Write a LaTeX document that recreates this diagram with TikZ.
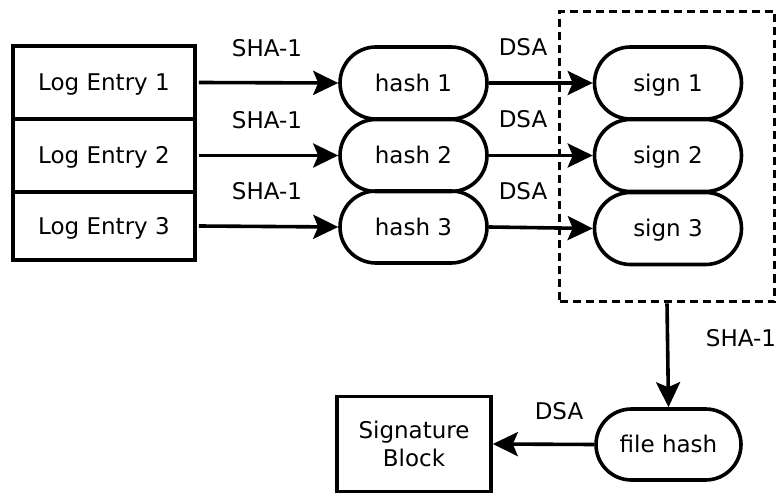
\documentclass[tikz,border=0pt]{standalone}
\usepackage{fontspec}
\setmainfont{DejaVu Sans}
\usetikzlibrary{shapes.misc,arrows.meta}
\begin{document}
\begin{tikzpicture}[x=1pt,y=-1pt,
  every node/.style={font=\fontsize{23}{28}\selectfont, inner sep=0pt},
  capfix/.style={text height=16.8pt, text depth=0pt},
  logbox/.style={draw, line width=3.6pt, rectangle, minimum width=182pt, capfix},
  capsule/.style={draw, line width=3.6pt, rounded rectangle, minimum width=147pt, minimum height=72pt, capfix},
  conn/.style={line width=3.6pt, -{Stealth[length=25pt,width=24pt,inset=5pt]}},
  lbl/.style={anchor=center, capfix}
]
\useasboundingbox (0,0) rectangle (776,494);
% log entries
\node[logbox, minimum height=73pt] (log1) at (104,82.5) {Log Entry 1};
\node[logbox, minimum height=73pt] (log2) at (104,155.5) {Log Entry 2};
\node[logbox, minimum height=68pt] (log3) at (104,226) {Log Entry 3};
% hash nodes
\node[capsule] (hash1) at (413.5,83) {hash 1};
\node[capsule] (hash2) at (413.5,155.5) {hash 2};
\node[capsule] (hash3) at (413.5,227) {hash 3};
% sign nodes
\node[capsule] (sign1) at (668,83) {sign 1};
\node[capsule] (sign2) at (668,155.5) {sign 2};
\node[capsule] (sign3) at (668,228.5) {sign 3};
% dashed group
\node[draw, line width=3.6pt, dash pattern=on 8pt off 5pt, minimum width=215pt, minimum height=290pt] (grp) at (667,156.5) {};
% file hash and signature block
\node[capsule, minimum width=145pt, minimum height=71pt] (fh) at (668.5,444.5) {file hash};
\node[draw, line width=3.6pt, minimum width=154pt, minimum height=95pt, align=center] (sig) at (414,444) {Signature\\Block};
% labels
\node[lbl] (s1) at (267,48) {SHA-1};
\node[lbl] (s2) at (267,120) {SHA-1};
\node[lbl] (s3) at (267,191) {SHA-1};
\node[lbl] (d1) at (523,47) {DSA};
\node[lbl] (d2) at (523,119) {DSA};
\node[lbl] (d3) at (523,191) {DSA};
\node[lbl] (s4) at (741,338) {SHA-1};
\node[lbl] (d4) at (559,411) {DSA};
% connectors
\draw[conn] (log1.east) ++(2,0) -- (hash1.west);
\draw[conn] (log2.east) ++(2,0) -- (hash2.west);
\draw[conn] (log3.east) ++(2,0) -- (hash3.west);
\draw[conn] (hash1.east) -- (sign1.west);
\draw[conn] (hash2.east) -- (sign2.west);
\draw[conn] (hash3.east) -- (sign3.west);
\draw[conn] (grp.south) -- (fh.north);
\draw[conn] (fh.west) -- (sig.east);
\end{tikzpicture}
\end{document}
